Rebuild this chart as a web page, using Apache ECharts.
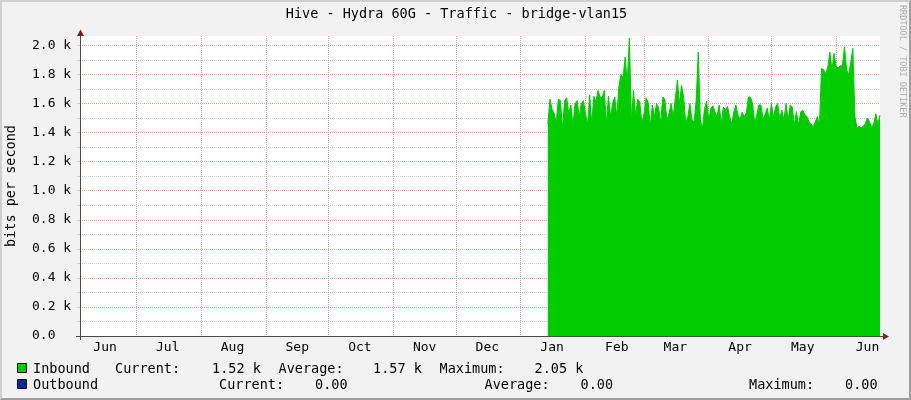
<!DOCTYPE html>
<html>
<head>
<meta charset="utf-8">
<script src="https://cdn.jsdelivr.net/npm/echarts@6/dist/echarts.min.js"></script>
<style>
html,body{margin:0;padding:0;background:#f2f2f2;}
#wrap{position:relative;width:911px;height:400px;}
#c{position:absolute;left:0;top:0;width:911px;height:400px;}
#frame{position:absolute;left:0;top:0;width:911px;height:400px;box-sizing:border-box;
border-top:2px solid #cfcfcf;border-left:2px solid #cfcfcf;border-right:2px solid #9e9e9e;border-bottom:2px solid #9e9e9e;pointer-events:none;}
</style>
</head>
<body>
<div id="wrap"><div id="c"></div><div id="frame"></div></div>
<script>
// ---------- data ----------
const TITLE = 'Hive - Hydra 60G - Traffic - bridge-vlan15';
const Y_AXIS_NAME = 'bits per second';
const WATERMARK = 'RRDTOOL / TOBI OETIKER';
const AXIS_START = '2014-06-04';
const AXIS_END = '2015-06-22';
const INBOUND_START = '2015-01-14';
const monthNames = ['Jan','Feb','Mar','Apr','May','Jun','Jul','Aug','Sep','Oct','Nov','Dec'];
const yTickValues = [0, 200, 400, 600, 800, 1000, 1200, 1400, 1600, 1800, 2000];
const yTickLabels = ['0.0', '0.2 k', '0.4 k', '0.6 k', '0.8 k', '1.0 k', '1.2 k', '1.4 k', '1.6 k', '1.8 k', '2.0 k'];
const Y_MAX = 2065;
// daily inbound bits per second, from 2015-01-14
const inbound = [
 1460,1630,1560,1530,1470,1630,1620,1430,1620,1640,
 1530,1590,1450,1600,1620,1510,1600,1620,1530,1455,
 1660,1460,1650,1610,1690,1645,1640,1690,1460,1650,
 1510,1600,1645,1510,1715,1800,1780,1920,1740,2050,
 1485,1690,1510,1630,1610,1460,1530,1640,1610,1440,
 1590,1510,1600,1570,1465,1645,1630,1485,1530,1600,
 1510,1635,1760,1600,1725,1645,1465,1510,1600,1485,
 1475,1620,1955,1485,1430,1565,1615,1485,1565,1585,
 1540,1510,1590,1460,1575,1555,1580,1510,1460,1540,
 1590,1520,1490,1540,1510,1535,1645,1645,1600,1465,
 1520,1590,1590,1495,1525,1570,1485,1600,1505,1575,
 1600,1495,1555,1485,1600,1480,1590,1575,1450,1545,
 1450,1540,1555,1525,1510,1475,1460,1435,1475,1510,
 1445,1840,1835,1805,1850,1955,1830,1945,1855,1845,
 1860,1860,1990,1835,1795,1885,1980,1510,1430,1445,
 1430,1445,1460,1500,1475,1435,1460,1530,1460,1520
];
const legendNames = ['Inbound', 'Outbound'];
const statNames = ['Current:', 'Average:', 'Maximum:'];
const inboundStats = ['1.52 k', '1.57 k', '2.05 k'];
const outboundStats = ['0.00', '0.00', '0.00'];

// ---------- build ----------
function parseUTC(s){ const p = s.split('-').map(Number); return Date.UTC(p[0], p[1]-1, p[2]); }
function fmt(t){ const d = new Date(t); return d.getUTCFullYear() + '-' + String(d.getUTCMonth()+1).padStart(2,'0') + '-' + String(d.getUTCDate()).padStart(2,'0'); }
const DAY = 86400000;
const categories = [];
for (let t = parseUTC(AXIS_START); t <= parseUTC(AXIS_END); t += DAY) categories.push(fmt(t));
const startIdx = categories.indexOf(INBOUND_START);
const inboundData = categories.map((c, i) => (i >= startIdx && i - startIdx < inbound.length) ? inbound[i - startIdx] : null);
function dayOf(c){ return Number(c.slice(8, 10)); }
function monOf(c){ return Number(c.slice(5, 7)) - 1; }

const FONT = 'DejaVu Sans Mono';
const MAJOR = '#eea4a4';
const MINOR = '#cdcdcd';
const ySplitColors = [];
for (let v = 0; v <= 2000; v += 100) ySplitColors.push(v % 200 === 0 ? MAJOR : MINOR);
ySplitColors.push('rgba(0,0,0,0)');

const GRID = {left: 80, right: 31, top: 36, bottom: 64};

const chart = echarts.init(document.getElementById('c'), null, {renderer: 'canvas'});

function legendText(x, y, text, align){
  return {type: 'text', x: x, y: y, silent: true,
    style: {text: text, fontFamily: FONT, fontSize: 13.5, fill: '#000',
      align: align || 'left', textAlign: align || 'left', verticalAlign: 'middle', textVerticalAlign: 'middle'}};
}

const graphics = [
  {type: 'text', x: 456.5, y: 14, silent: true,
   style: {text: TITLE, fontFamily: FONT, fontSize: 13.5, fill: '#000', align: 'center', textAlign: 'center', verticalAlign: 'middle', textVerticalAlign: 'middle'}},
  {type: 'text', x: 902, y: 5, rotation: -Math.PI/2, silent: true,
   style: {text: WATERMARK, fontFamily: FONT, fontSize: 8.5, fill: '#ababab', align: 'left', textAlign: 'left', verticalAlign: 'middle', textVerticalAlign: 'middle'}},
  // legend swatches
  {type: 'rect', shape: {x: 17.5, y: 363.5, width: 9, height: 9}, style: {fill: '#00cc00', stroke: '#000', lineWidth: 1}, silent: true},
  {type: 'rect', shape: {x: 17.5, y: 379.5, width: 9, height: 9}, style: {fill: '#002a97', stroke: '#000', lineWidth: 1}, silent: true},
  legendText(33, 369, legendNames[0]),
  legendText(115, 369, statNames[0]),
  legendText(212, 369, inboundStats[0]),
  legendText(278.5, 369, statNames[1]),
  legendText(373, 369, inboundStats[1]),
  legendText(439.5, 369, statNames[2]),
  legendText(534.5, 369, inboundStats[2]),
  legendText(33, 385, legendNames[1]),
  legendText(219, 385, statNames[0]),
  legendText(315, 385, outboundStats[0]),
  legendText(484.5, 385, statNames[1]),
  legendText(580.5, 385, outboundStats[1]),
  legendText(749, 385, statNames[2]),
  legendText(845, 385, outboundStats[2]),
  // axis lines (extending slightly past the plot, as in the original) and arrows
  {type: 'line', shape: {x1: 76, y1: 336.5, x2: 884, y2: 336.5}, style: {stroke: '#4a4a4a', lineWidth: 1}, silent: true, z: 10},
  {type: 'line', shape: {x1: 80.5, y1: 340, x2: 80.5, y2: 33}, style: {stroke: '#4a4a4a', lineWidth: 1}, silent: true, z: 10},
  {type: 'polygon', shape: {points: [[883, 333], [889, 336.5], [883, 340]]}, style: {fill: '#801f1f'}, silent: true, z: 11},
  {type: 'polygon', shape: {points: [[77, 36], [80.5, 29.5], [84, 36]]}, style: {fill: '#801f1f'}, silent: true, z: 11}
];

const option = {
  animation: false,
  backgroundColor: '#f2f2f2',
  grid: {left: GRID.left, right: GRID.right, top: GRID.top, bottom: GRID.bottom, show: true,
    backgroundColor: '#ffffff', borderWidth: 0, containLabel: false, outerBoundsMode: 'none'},
  xAxis: {
    type: 'category',
    data: categories,
    boundaryGap: false,
    axisLine: {show: false},
    axisTick: {show: false},
    axisLabel: {
      show: true,
      interval: (i, v) => dayOf(v) === 16,
      formatter: (v) => monthNames[monOf(v)],
      color: '#000', fontFamily: FONT, fontSize: 13, margin: 5
    },
    splitLine: {
      show: true,
      interval: (i, v) => dayOf(v) === 1,
      lineStyle: {color: MAJOR, width: 1, type: [1, 1]}
    }
  },
  yAxis: {
    type: 'value',
    min: 0, max: Y_MAX, interval: 100,
    name: Y_AXIS_NAME, nameLocation: 'middle', nameRotate: 90, nameGap: 62,
    nameTextStyle: {color: '#000', fontFamily: FONT, fontSize: 13.5},
    axisLine: {show: false},
    axisTick: {show: true, length: 3, lineStyle: {color: '#d0d0d0'}},
    axisLabel: {
      show: true,
      showMaxLabel: false,
      align: 'left',
      margin: 48,
      color: '#000', fontFamily: FONT, fontSize: 13,
      formatter: (v) => { const k = yTickValues.indexOf(v); return k >= 0 ? yTickLabels[k] : ''; }
    },
    splitLine: {show: true, showMaxLine: false, showMinLine: true, lineStyle: {color: ySplitColors, width: 1, type: [1, 1]}}
  },
  series: [{
    name: legendNames[0],
    type: 'line',
    data: inboundData,
    connectNulls: false,
    symbol: 'none',
    showSymbol: false,
    lineStyle: {width: 1, color: '#00cc00'},
    itemStyle: {color: '#00cc00'},
    areaStyle: {color: '#00cc00', opacity: 1, origin: 'start'},
    z: 3
  }],
  graphic: graphics
};
chart.setOption(option);
</script>
</body>
</html>
